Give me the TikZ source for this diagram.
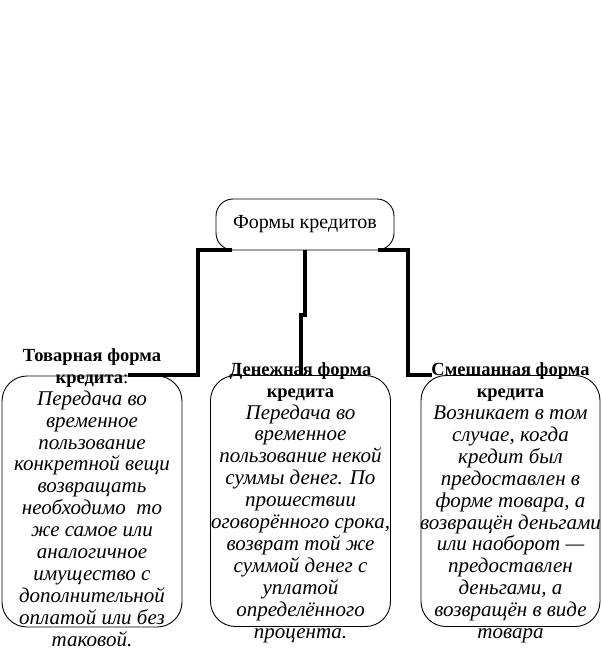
\documentclass[tikz,border=0pt]{standalone}
\usepackage{fontspec}
\setmainfont{Liberation Serif}
\newcommand\bodyit{\fontsize{21}{21.9}\itshape\selectfont}
\begin{document}
\begin{tikzpicture}[x=1pt,y=-1pt,
  box/.style={draw, line width=0.9pt, rounded corners=25pt, minimum width=180pt, minimum height=251pt, inner sep=0pt},
  topbox/.style={draw, line width=0.9pt, rounded corners=17pt, minimum width=178pt, minimum height=51pt, inner sep=0pt, font=\fontsize{20}{22}\selectfont},
  txt/.style={align=center, font=\fontsize{18.5}{21.9}\selectfont, inner sep=0pt},
  conn/.style={line width=4pt}]
\useasboundingbox (0,0) rectangle (602,659);

\node[topbox] (top) at (305,224.5) {Формы кредитов};

\node[box] (b1) at (92,501.5) {};
\node[box] (b2) at (300.5,501) {};
\node[box, minimum width=179pt] (b3) at (510.5,501) {};

\coordinate (lbend) at (198,375);
\coordinate (lend) at (128,375);
\coordinate (rbend) at (408,375);
\coordinate (rend) at (432,375);

\draw[conn] ([xshift=16pt]top.south west) -| (lbend) -- (lend);
\draw[conn] (top.south) -- ++(0,65) -| (b2.north);
\draw[conn] ([xshift=-16pt]top.south east) -| (rbend) -- (rend);

\node[txt] (t1) at (92,497.5) {\textbf{Товарная форма}\\\textbf{кредита}:\\
\bodyit Передача во\\\bodyit временное\\\bodyit пользование\\\bodyit конкретной вещи\\\bodyit возвращать\\\bodyit необходимо~ то\\\bodyit же самое или\\\bodyit аналогичное\\\bodyit имущество с\\\bodyit дополнительной\\\bodyit оплатой или без\\\bodyit таковой.};

\node[txt] (t2) at (300.5,502.5) {\textbf{Денежная форма}\\\textbf{кредита}\\
\bodyit Передача во\\\bodyit временное\\\bodyit пользование некой\\\bodyit суммы денег. По\\\bodyit прошествии\\\bodyit оговорённого срока,\\\bodyit возврат той же\\\bodyit суммой денег с\\\bodyit уплатой\\\bodyit определённого\\\bodyit процента.};

\node[txt] (t3) at (510.5,503) {\textbf{Смешанная форма}\\\textbf{кредита}\\
\bodyit Возникает в том\\\bodyit случае, когда\\\bodyit кредит был\\\bodyit предоставлен в\\\bodyit форме товара, а\\\bodyit возвращён деньгами\\\bodyit или наоборот —\\\bodyit предоставлен\\\bodyit деньгами, а\\\bodyit возвращён в виде\\\bodyit товара};
\end{tikzpicture}
\end{document}
